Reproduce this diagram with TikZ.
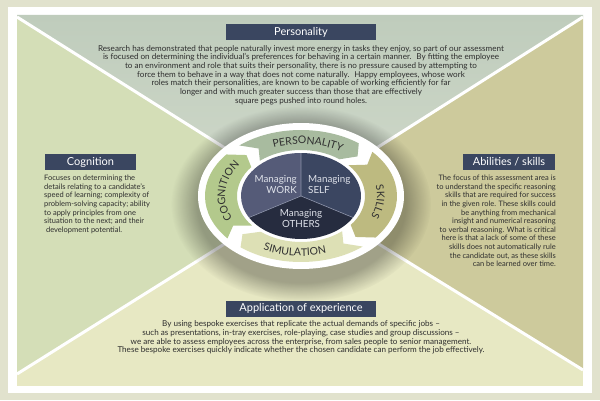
\documentclass[tikz,border=0pt]{standalone}
\usepackage{fontspec}
\setmainfont{Lato}
\usetikzlibrary{decorations.text,fadings}

\definecolor{pagebg}{HTML}{E1E2CD}
\definecolor{topzone}{HTML}{BFCCBC}
\definecolor{topzonelight}{HTML}{D0D9CA}
\definecolor{leftzone}{HTML}{D4DEB7}
\definecolor{rightzone}{HTML}{CDCA9C}
\definecolor{lowzone}{HTML}{E7E8C3}
\definecolor{navy}{HTML}{3A4660}
\definecolor{bodygray}{HTML}{2E2E2E}
\definecolor{ringtext}{HTML}{303030}
\definecolor{persband}{HTML}{A8BB9F}
\definecolor{skillband}{HTML}{BDBA80}
\definecolor{simband}{HTML}{DDE0B5}
\definecolor{cogband}{HTML}{B3C98C}
\definecolor{workpie}{HTML}{555B78}
\definecolor{selfpie}{HTML}{3B4661}
\definecolor{otherspie}{HTML}{262C3F}
\definecolor{pieline}{HTML}{8C93AA}
\definecolor{pietext}{HTML}{DFE2EA}

\newcommand{\ringfont}{\fontsize{10.5}{11}\selectfont}
% one curved arrow of the ring: tail angle, head angle, colour
\newcommand{\ringarrow}[3]{%
  \fill[#3] (#1:96 and 66) arc[start angle=#1,end angle=#2+8,x radius=96,y radius=66]
    -- (#2:80 and 56) -- ({#2+8}:64 and 46)
    arc[start angle=#2+8,end angle=#1,x radius=64,y radius=46]
    -- ({#1-8}:80 and 56) -- cycle;}

\begin{document}
\begin{tikzpicture}[x=1pt,y=1pt,
    titlebox/.style={fill=navy,text=white,font=\fontsize{11}{13}\selectfont,
      minimum height=16,inner sep=0},
    bodytext/.style={text=bodygray,inner sep=0,font=\fontsize{8.1}{8.7}\selectfont},
    sidetext/.style={text=bodygray,inner sep=0,font=\fontsize{7.5}{8.6}\selectfont},
    pielabel/.style={text=pietext,inner sep=0,font=\fontsize{9.8}{10.5}\selectfont},
    ringlabel/.style={decorate,decoration={text along path,text align=center,
      text color=ringtext,text={|\ringfont|#1}}}]
  \useasboundingbox (0,0) rectangle (600,400);
  \fill[pagebg] (0,0) rectangle (600,400);
  \fill[white] (8,7) rectangle (592,393);
  \fill[lowzone] (17,14) rectangle (583,385);

  \coordinate (ctr) at (301,204);
  \coordinate (tl) at (17,383);
  \coordinate (tr) at (583,383);
  \coordinate (bl) at (17,26);
  \coordinate (br) at (583,30);
  \shade[top color=topzone,bottom color=topzonelight] (17,385) -- (583,385) -- (tr) -- (ctr) -- (tl) -- cycle;
  \fill[leftzone] (tl) -- (ctr) -- (bl) -- cycle;
  \fill[rightzone] (tr) -- (ctr) -- (br) -- cycle;
  \draw[white,line width=3] (tl) -- (ctr) -- (br) (tr) -- (ctr) -- (bl);

  % ring in the middle
  \begin{scope}[shift={(ctr)}]
    \fill[black,opacity=.3,path fading=circle with fuzzy edge 20 percent]
      (0,-8) ellipse [x radius=130,y radius=98];
    \fill[white] (0,0) ellipse [x radius=103,y radius=73];
    \ringarrow{130}{45}{persband}
    \ringarrow{42}{-47}{skillband}
    \ringarrow{-50}{-137}{simband}
    \ringarrow{-140}{-227}{cogband}
    \path[ringlabel=PERSONALITY] (126:76 and 52)
      arc[start angle=126,end angle=42,x radius=76,y radius=52];
    \path[ringlabel=SKILLS] (35:76 and 52)
      arc[start angle=35,end angle=-45,x radius=76,y radius=52];
    \path[ringlabel=SIMULATION] (-137:84 and 60)
      arc[start angle=-137,end angle=-53,x radius=84,y radius=60];
    \path[ringlabel=COGNITION] (217:76 and 52)
      arc[start angle=217,end angle=133,x radius=76,y radius=52];
    \fill[workpie] (0,0) -- (90:60 and 43) arc[start angle=90,end angle=210,x radius=60,y radius=43] -- cycle;
    \fill[selfpie] (0,0) -- (-30:60 and 43) arc[start angle=-30,end angle=90,x radius=60,y radius=43] -- cycle;
    \fill[otherspie] (0,0) -- (210:60 and 43) arc[start angle=210,end angle=330,x radius=60,y radius=43] -- cycle;
    \draw[pieline,line width=.6] (0,0) -- (90:60 and 43) (0,0) -- (210:60 and 43) (0,0) -- (330:60 and 43);
    \node[pielabel,align=right,anchor=east] (work) at (-4,11.5) {Managing\\WORK};
    \node[pielabel,align=left,anchor=west] (self) at (7,11.5) {Managing\\SELF};
    \node[pielabel,align=center] (others) at (0,-22.5) {Managing\\OTHERS};
  \end{scope}

  % personality
  \node[titlebox,minimum width=150] (perstitle) at (301,368) {Personality};
  \node[bodytext,align=center] (perstext) at (301,325) {Research has demonstrated that people naturally invest more energy in tasks they enjoy, so part of our assessment\\
    is focused on determining the individual's preferences for behaving in a certain manner.~ By fitting the employee\\
    to an environment and role that suits their personality, there is no pressure caused by attempting to\\
    force them to behave in a way that does not come naturally.~ Happy employees, whose work\\
    roles match their personalities, are known to be capable of working efficiently for far\\
    longer and with much greater success than those that are effectively\\
    square pegs pushed into round holes.};

  % cognition
  \node[titlebox,minimum width=91] (cogtitle) at (90.5,238) {Cognition};
  \node[sidetext,align=left,anchor=north west] (cogtext) at (44,225) {Focuses on determining the\\
    details relating to a candidate's\\
    speed of learning; complexity of\\
    problem-solving capacity; ability\\
    to apply principles from one\\
    situation to the next; and their\\
    \ development potential.};

  % abilities / skills
  \node[titlebox,minimum width=92] (skilltitle) at (509,238) {Abilities / skills};
  \node[sidetext,align=right,anchor=north east] (skilltext) at (556,225) {The focus of this assessment area is\\
    to understand the specific reasoning\\
    skills that are required for success\\
    in the given role. These skills could\\
    be anything from mechanical\\
    insight and numerical reasoning\\
    to verbal reasoning. What is critical\\
    here is that a lack of some of these\\
    skills does not automatically rule\\
    the candidate out, as these skills\\
    can be learned over time.};

  % application of experience
  \node[titlebox,minimum width=150] (apptitle) at (301,91.5) {Application of experience};
  \node[bodytext,align=center] (apptext) at (301,62.5) {By using bespoke exercises that replicate the actual demands of specific jobs --\\
    such as presentations, in-tray exercises, role-playing, case studies and group discussions --\\
    we are able to assess employees across the enterprise, from sales people to senior management.\\
    These bespoke exercises quickly indicate whether the chosen candidate can perform the job effectively.};
\end{tikzpicture}
\end{document}
